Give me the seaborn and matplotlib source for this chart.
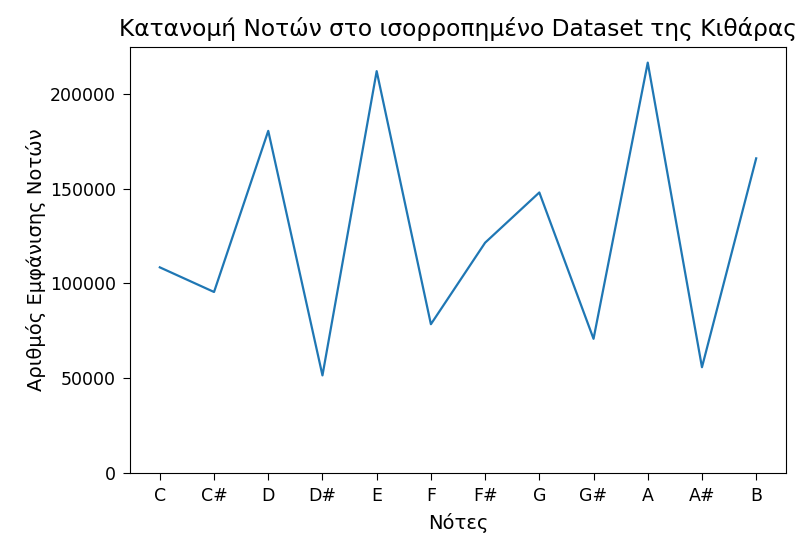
import pandas as pd
import numpy as np
import matplotlib
matplotlib.use('Agg')
import matplotlib.pyplot as plt
from matplotlib.ticker import MultipleLocator
import seaborn as sns

# Data
notes = ['C', 'C#', 'D', 'D#', 'E', 'F', 'F#', 'G', 'G#', 'A', 'A#', 'B']
counts = [108500, 95500, 180500, 51500, 212000, 78500, 121500, 148000, 70800, 216500, 55800, 166000]

df = pd.DataFrame({'note': notes, 'count': counts})

plt.rcParams['font.family'] = ['DejaVu Sans']

fig = plt.figure(figsize=(8.01, 5.33), dpi=100)
ax = fig.add_axes([130/801, 1 - 473/533, 656/801, 426/533])

sns.lineplot(data=df, x='note', y='count', sort=False, color='#1f77b4', linewidth=1.6, ax=ax)

ax.set_ylim(bottom=0)
ax.yaxis.set_major_locator(MultipleLocator(50000))
ax.set_title('Κατανομή Νοτών στο ισορροπημένο Dataset της Κιθάρας', fontsize=16.8, pad=8)
ax.set_xlabel('Νότες', fontsize=14, labelpad=6)
ax.set_ylabel('Αριθμός Εμφάνισης Νοτών', fontsize=14, labelpad=3)
ax.tick_params(labelsize=12.5, length=5, pad=5)

fig.savefig('out.png', dpi=100)
